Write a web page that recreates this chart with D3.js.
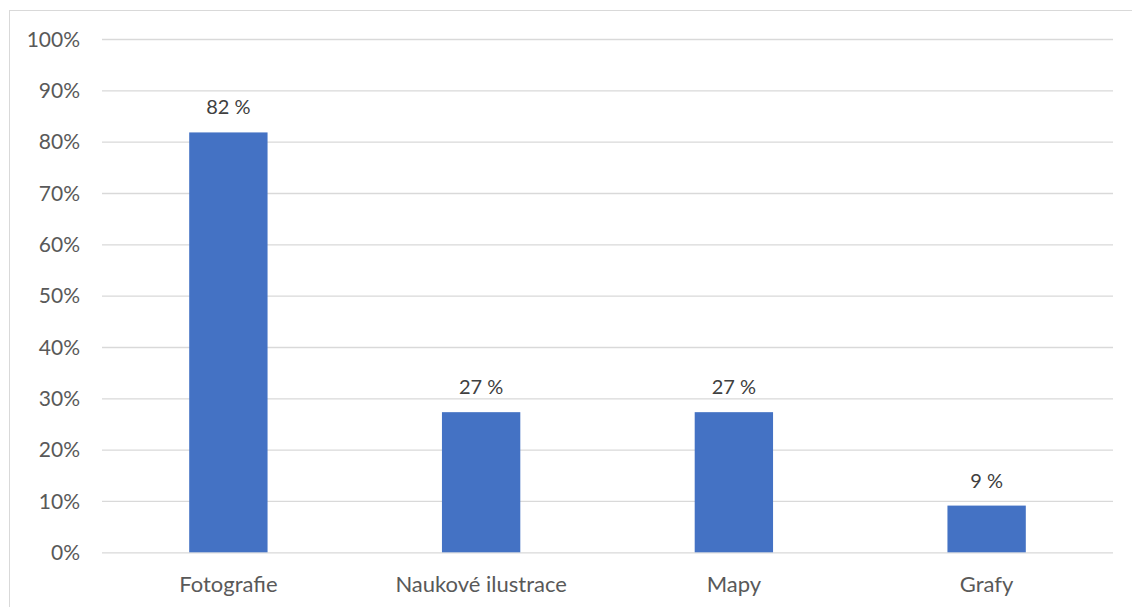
<!DOCTYPE html>
<html><head><meta charset="utf-8">
<script src="https://cdn.jsdelivr.net/npm/d3@7/dist/d3.min.js"></script>
<style>html,body{margin:0;padding:0;background:#fff;}svg{display:block;}</style>
</head><body>
<svg id="chart" width="1132" height="607"></svg>
<script>
const categories = ["Fotografie", "Naukové ilustrace", "Mapy", "Grafy"];
const values = [81.8, 27.3, 27.3, 9.1];
const valueLabels = ["82 %", "27 %", "27 %", "9 %"];
const yTicks = [0, 10, 20, 30, 40, 50, 60, 70, 80, 90, 100];

(function () {
const svg = d3.select("#chart");
const W = 1132, H = 607;
const font = "Lato, 'Open Sans', sans-serif";
const mLeft = 102, mRight = 1113, mTop = 39, mBottom = 552.3;

svg.append("rect").attr("x", 9.5).attr("y", 10.5).attr("width", W + 10).attr("height", H + 10)
  .attr("fill", "#fff").attr("stroke", "#d9d9d9").attr("stroke-width", 1);

const x = d3.scaleBand().domain(categories).range([mLeft, mRight]).paddingInner(0.69).paddingOuter(0.345);
const y = d3.scaleLinear().domain([0, 100]).range([mBottom, mTop]);

const yAxis = d3.axisLeft(y).tickValues(yTicks).tickFormat(d => d + "%").tickSize(-(mRight - mLeft)).tickPadding(22);
const gy = svg.append("g").attr("transform", `translate(${mLeft},0)`).call(yAxis);
gy.select(".domain").remove();
gy.selectAll(".tick line").attr("stroke", "#d9d9d9").attr("stroke-width", 1.3);
gy.selectAll(".tick text").attr("fill", "#595959").style("font-family", font).style("font-size", "21px").attr("dy", "0.34em");

svg.append("g").selectAll("rect").data(categories).join("rect")
  .attr("x", d => x(d)).attr("width", x.bandwidth())
  .attr("y", (d, i) => y(values[i])).attr("height", (d, i) => y(0) - y(values[i]))
  .attr("fill", "#4472c4");

svg.append("g").selectAll("text").data(categories).join("text")
  .attr("x", d => x(d) + x.bandwidth() / 2).attr("y", (d, i) => y(values[i]) - 18)
  .attr("text-anchor", "middle").attr("fill", "#404040")
  .style("font-family", font).style("font-size", "20px")
  .text((d, i) => valueLabels[i]);

const xAxis = d3.axisBottom(x).tickSize(0).tickPadding(0);
const gx = svg.append("g").attr("transform", `translate(0,${mBottom})`).call(xAxis);
gx.select(".domain").remove();
gx.selectAll(".tick text").attr("fill", "#595959").style("font-family", font).style("font-size", "22px")
  .attr("dy", 0).attr("y", 39.5);
})();
</script>
</body></html>
